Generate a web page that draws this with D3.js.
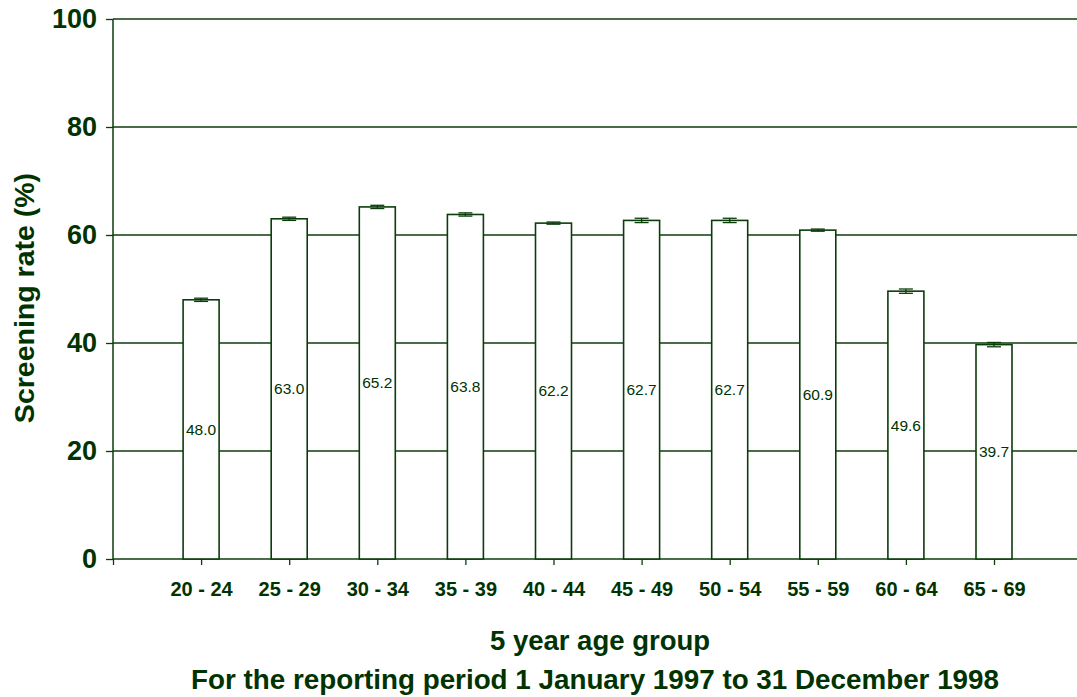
<!DOCTYPE html>
<html>
<head>
<meta charset="utf-8">
<script src="https://cdn.jsdelivr.net/npm/d3@7"></script>
<style>
  body { margin: 0; background: #fff; }
  text { font-family: "Liberation Sans", Arial, sans-serif; fill: #003300; }
</style>
</head>
<body>
<div id="main"></div>
<script>
// age groups, rates and error half-widths
const ages = ["20 - 24", "25 - 29", "30 - 34", "35 - 39", "40 - 44", "45 - 49", "50 - 54", "55 - 59", "60 - 64", "65 - 69"];
const rates = [48.0, 63.0, 65.2, 63.8, 62.2, 62.7, 62.7, 60.9, 49.6, 39.7];
const errs = [0.3, 0.3, 0.3, 0.3, 0.2, 0.4, 0.4, 0.2, 0.4, 0.4];
const yTicks = [0, 20, 40, 60, 80, 100];

const W = 1077, H = 697;
const ink = "#003300";
const line = "#0b3d0b";

let margin = {top: 19, left: 113, bottom: 138};
let height = H - margin.top - margin.bottom;

const data = ages.map((a, i) => ({age: a, rate: rates[i], err: errs[i]}));

// first slot is empty, like the original (tick at the axis origin)
let x = d3.scalePoint()
	.domain(["", ...ages])
	.range([0, 881]);

let y = d3.scaleLinear()
	.domain([0, 100])
	.range([height, 0]);

let svg = d3.select("#main")
	.append("svg")
		.attr("width", W)
		.attr("height", H)
	.append("g")
		.attr("transform", `translate(${margin.left}, ${margin.top})`);

// gridlines
svg.append("g")
	.selectAll("line")
	.data(yTicks.filter(d => d > 0))
	.enter()
	.append("line")
		.attr("x1", 0)
		.attr("x2", W - margin.left)
		.attr("y1", d => y(d))
		.attr("y2", d => y(d))
		.style("stroke", line)
		.style("stroke-width", 1.3);

// y axis
let yAxis = svg.append("g")
	.call(d3.axisLeft(y).tickValues(yTicks).tickSize(7).tickPadding(9));
yAxis.select(".domain").remove();
yAxis.selectAll(".tick line").style("stroke", line).style("stroke-width", 1.3);
yAxis.selectAll(".tick text")
	.style("font-size", "27px")
	.style("font-weight", "bold")
	.style("fill", ink);
svg.append("line")
	.attr("x1", 0).attr("x2", 0)
	.attr("y1", 0).attr("y2", height)
	.style("stroke", line).style("stroke-width", 1.5);

// x axis
let xAxis = svg.append("g")
	.attr("transform", `translate(0,${height})`)
	.call(d3.axisBottom(x).tickSize(6).tickPadding(17));
xAxis.select(".domain").remove();
xAxis.selectAll(".tick line").style("stroke", line).style("stroke-width", 1.3);
xAxis.selectAll(".tick text")
	.style("font-size", "20px")
	.style("font-weight", "bold")
	.style("fill", ink);
svg.append("line")
	.attr("x1", 0).attr("x2", W - margin.left)
	.attr("y1", height).attr("y2", height)
	.style("stroke", line).style("stroke-width", 1.3);

// bars
const bw = 36;
let bars = svg.append("g")
	.selectAll("g")
	.data(data)
	.enter()
	.append("g");

bars.append("rect")
	.attr("x", d => x(d.age) - bw / 2)
	.attr("y", d => y(d.rate))
	.attr("width", bw)
	.attr("height", d => height - y(d.rate))
	.style("fill", "#fff")
	.style("stroke", line)
	.style("stroke-width", 1.6);

// error bars
bars.append("line")
	.attr("x1", d => x(d.age)).attr("x2", d => x(d.age))
	.attr("y1", d => y(d.rate - d.err)).attr("y2", d => y(d.rate + d.err))
	.style("stroke", line).style("stroke-width", 1.3);
[1, -1].forEach(s => {
	bars.append("line")
		.attr("x1", d => x(d.age) - 7).attr("x2", d => x(d.age) + 7)
		.attr("y1", d => y(d.rate + s * d.err)).attr("y2", d => y(d.rate + s * d.err))
		.style("stroke", line).style("stroke-width", 1.3);
});

// value labels at half height
bars.append("text")
	.attr("x", d => x(d.age))
	.attr("y", d => y(d.rate / 2))
	.attr("dy", "0.35em")
	.attr("text-anchor", "middle")
	.style("font-size", "15.5px")
	.text(d => d.rate.toFixed(1));

// titles
let root = d3.select("svg");
root.append("text")
	.attr("transform", `translate(34, ${margin.top + height / 2 + 9}) rotate(-90)`)
	.attr("text-anchor", "middle")
	.style("font-size", "28.5px")
	.style("font-weight", "bold")
	.text("Screening rate (%)");

root.append("text")
	.attr("x", 600).attr("y", 650)
	.attr("text-anchor", "middle")
	.style("font-size", "27.5px")
	.style("font-weight", "bold")
	.text("5 year age group");

root.append("text")
	.attr("x", 595).attr("y", 689)
	.attr("text-anchor", "middle")
	.style("font-size", "27.8px")
	.style("font-weight", "bold")
	.text("For the reporting period 1 January 1997 to 31 December 1998");
</script>
</body>
</html>
